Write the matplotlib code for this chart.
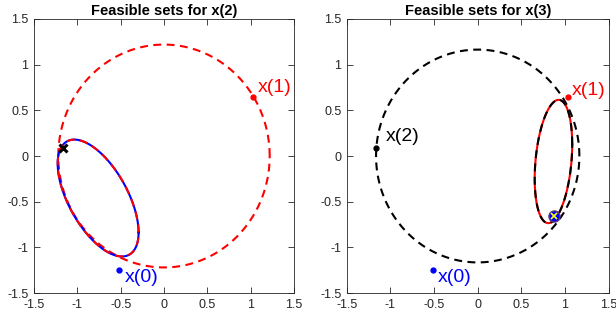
import numpy as np
import matplotlib
matplotlib.use('Agg')
import matplotlib.pyplot as plt

plt.rcParams['font.family'] = ['Liberation Sans', 'DejaVu Sans']

# trajectory points
pts_x = [-0.515, 1.03, -1.17, 0.87]
pts_y = [-1.245, 0.65, 0.084, -0.657]
labels = ['x(0)', 'x(1)', 'x(2)']

# reachable circles (radius = |x(k)|)
r_left = 1.22
r_right = 1.165

# ellipses: centre, half x-extent, half y-extent, phase
ell_left = dict(cx=-0.76, cy=-0.46, p=0.467, q=0.64, phi=2.2)
ell_right = dict(cx=0.868, cy=-0.06, p=0.215, q=0.675, phi=1.29)

GRAY = '#262626'
t = np.linspace(0, 2 * np.pi, 400)


def ellipse(e):
    return e['cx'] + e['p'] * np.cos(t), e['cy'] + e['q'] * np.cos(t - e['phi'])


def style_axes(ax, title):
    ax.set_xlim(-1.5, 1.5)
    ax.set_ylim(-1.5, 1.5)
    ticks = [-1.5, -1, -0.5, 0, 0.5, 1, 1.5]
    ax.set_xticks(ticks)
    ax.set_yticks(ticks)
    ax.set_xticklabels(['-1.5', '-1', '-0.5', '0', '0.5', '1', '1.5'])
    ax.set_yticklabels(['-1.5', '-1', '-0.5', '0', '0.5', '1', '1.5'])
    ax.tick_params(direction='in', top=True, right=True, length=4, width=0.6,
                   colors=GRAY, labelsize=9, pad=4)
    for s in ax.spines.values():
        s.set_color(GRAY)
        s.set_linewidth(0.6)
    ax.set_title(title, fontsize=10.5, fontweight='bold', color='black', pad=3)


fig = plt.figure(figsize=(6.16, 3.22), dpi=100)
ax1 = fig.add_axes([0.0552, 0.090, 0.422, 0.851])
ax2 = fig.add_axes([0.563, 0.090, 0.425, 0.851])

dash = (0, (3.8, 2.6))

# left panel
ex, ey = ellipse(ell_left)
ax1.plot(r_left * np.cos(t), r_left * np.sin(t), color='r', lw=1.5, ls=dash)
ax1.plot(ex, ey, color='b', lw=1.5)
ax1.plot(ex, ey, color='r', lw=1.5, ls=dash)
ax1.plot(pts_x[0], pts_y[0], '.', color='b', ms=7)
ax1.plot(pts_x[1], pts_y[1], '.', color='r', ms=7)
ax1.plot(pts_x[2], pts_y[2], 'x', color='k', ms=6, mew=2.2)
ax1.text(pts_x[0] + 0.06, pts_y[0] - 0.08, labels[0], color='b', fontsize=14, va='center')
ax1.text(pts_x[1] + 0.05, pts_y[1] + 0.1, labels[1], color='r', fontsize=14, va='center')
style_axes(ax1, 'Feasible sets for x(2)')

# right panel
ex, ey = ellipse(ell_right)
ax2.plot(r_right * np.cos(t), r_right * np.sin(t), color='k', lw=1.5, ls=dash)
ax2.plot(ex, ey, color='r', lw=1.5)
ax2.plot(ex, ey, color='k', lw=1.5, ls=dash)
ax2.plot(pts_x[0], pts_y[0], '.', color='b', ms=7)
ax2.plot(pts_x[1], pts_y[1], '.', color='r', ms=7)
ax2.plot(pts_x[2], pts_y[2], '.', color='k', ms=7)
ax2.plot(pts_x[3], pts_y[3], 'o', mfc='b', mec='#5a3a6a', ms=8, mew=1)
ax2.plot(pts_x[3], pts_y[3], 'x', color='yellow', ms=5, mew=1.2)
ax2.text(pts_x[0] + 0.06, pts_y[0] - 0.09, labels[0], color='b', fontsize=14, va='center')
ax2.text(pts_x[1] + 0.05, pts_y[1] + 0.07, labels[1], color='r', fontsize=14, va='center')
ax2.text(pts_x[2] + 0.12, pts_y[2] + 0.13, labels[2], color='k', fontsize=14, va='center')
style_axes(ax2, 'Feasible sets for x(3)')

fig.savefig('out.png', dpi=100)
